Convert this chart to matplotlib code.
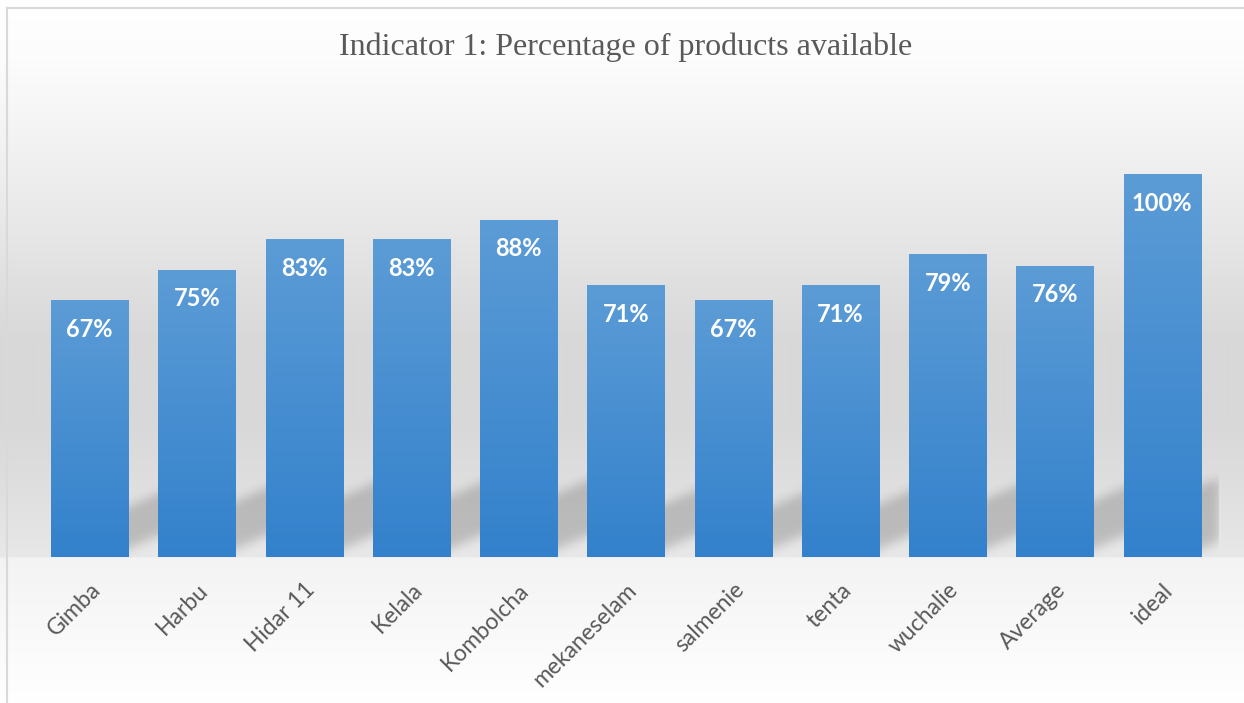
import numpy as np
import matplotlib
matplotlib.use("Agg")
import matplotlib.pyplot as plt
from matplotlib.colors import LinearSegmentedColormap
from matplotlib.lines import Line2D

# ---- data ----
categories = ["Gimba", "Harbu", "Hidar 11", "Kelala", "Kombolcha",
              "mekaneselam", "salmenie", "tenta", "wuchalie", "Average", "ideal"]
values = [67, 75, 83, 83, 88, 71, 67, 71, 79, 76, 100]
value_labels = ["67%", "75%", "83%", "83%", "88%", "71%", "67%", "71%", "79%", "76%", "100%"]
title = "Indicator 1: Percentage of products available"

W_PX, H_PX, DPI = 1244, 703, 100
fig = plt.figure(figsize=(W_PX / DPI, H_PX / DPI), dpi=DPI)

# ---- chart-area background: vertical grey gradient ----
stops_y = [0, 60, 160, 260, 340, 420, 480, 556, 558, 640, 703]
stops_g = [255, 252, 240, 227, 216, 216, 222, 232, 243, 250, 255]
rows = np.arange(H_PX)
grey = np.interp(rows, stops_y, stops_g) / 255.0
bg_img = np.repeat(grey[:, None], 2, axis=1)
bg_ax = fig.add_axes([0, 0, 1, 1], zorder=-10)
bg_ax.imshow(np.dstack([bg_img] * 3), aspect="auto", extent=[0, 1, 0, 1],
             origin="upper", interpolation="bilinear")
bg_ax.set_axis_off()

# left and top border of the chart frame
fig.add_artist(Line2D([7.5 / W_PX, 7.5 / W_PX], [0, 1 - 7.5 / H_PX],
                      transform=fig.transFigure, color="#d9d9d9", lw=1.5))
fig.add_artist(Line2D([7.5 / W_PX, 1], [1 - 7.5 / H_PX, 1 - 7.5 / H_PX],
                      transform=fig.transFigure, color="#d9d9d9", lw=1.5))

# ---- plot area ----
ax_left, ax_right = 36, 1218
ax_bottom_px, ax_top_px = 557, 100
ax = fig.add_axes([ax_left / W_PX, 1 - ax_bottom_px / H_PX,
                   (ax_right - ax_left) / W_PX, (ax_bottom_px - ax_top_px) / H_PX])
ax.patch.set_alpha(0)
n = len(categories)
x = np.arange(n)
bar_w = 0.72
y_per_px = 100 / 383.0
ytop = (ax_bottom_px - ax_top_px) * y_per_px
x_lo, x_hi = -0.5, n - 0.5 + 0.02
ax.set_xlim(x_lo, x_hi)
ax.set_ylim(0, ytop)

# ---- soft perspective shadows behind the bars ----
gw = ax_right - ax_left
gh = ax_bottom_px - ax_top_px
gx = np.linspace(x_lo, x_hi, gw)
gy = np.linspace(0, ytop, gh)
XX, YY = np.meshgrid(gx, gy)
mask = np.zeros_like(XX)
x_per_px = (x_hi - x_lo) / gw
slope = 0.43 * y_per_px / x_per_px  # data-y per data-x
for xi, v in zip(x, values):
    L = xi - bar_w / 2
    R = xi + bar_w / 2
    s_left, s_right = L + 0.15, R + 0.45
    base = 8 * y_per_px + slope * (XX - R)
    thick = 0.165 * v
    inside = (XX >= s_left) & (XX <= s_right) & (YY >= base) & (YY <= base + thick)
    mask = np.maximum(mask, inside.astype(float))


def blur(a, sigma):
    r = int(3 * sigma)
    k = np.exp(-0.5 * (np.arange(-r, r + 1) / sigma) ** 2)
    k /= k.sum()
    a = np.apply_along_axis(lambda m: np.convolve(m, k, mode="same"), 0, a)
    a = np.apply_along_axis(lambda m: np.convolve(m, k, mode="same"), 1, a)
    return a


mask = blur(mask, 5.0)
shadow = np.zeros((gh, gw, 4))
shadow[..., 3] = 0.18 * mask
ax.imshow(shadow, extent=[x_lo, x_hi, 0, ytop], origin="lower",
          aspect="auto", zorder=1, interpolation="bilinear")

# ---- gradient-filled bars ----
bar_cmap = LinearSegmentedColormap.from_list("barblue", ["#3381cc", "#5c9cd6"])
grad = np.linspace(0, 1, 256)[:, None]
bars = ax.bar(x, values, width=bar_w, color="none", edgecolor="none", zorder=2)
for rect, v, lab in zip(bars, values, value_labels):
    L = rect.get_x()
    im = ax.imshow(grad, cmap=bar_cmap, extent=[L, L + rect.get_width(), 0, v],
                   origin="lower", aspect="auto", zorder=3, interpolation="bilinear")
    im.set_clip_path(rect)
    ax.annotate(lab, xy=(rect.get_x() + rect.get_width() / 2, v),
                xytext=(0, -29), textcoords="offset pixels",
                ha="center", va="center", color="white", fontsize=17,
                fontweight="bold", family="Lato", zorder=5)

ax.set_xlim(x_lo, x_hi)
ax.set_ylim(0, ytop)

# ---- axes styling ----
for sp in ax.spines.values():
    sp.set_visible(False)
ax.set_yticks([])
ax.set_xticks(x)
ax.set_xticklabels(categories, rotation=45, ha="right", rotation_mode="anchor",
                   fontsize=16.5, family="Lato", color="#595959")
ax.tick_params(axis="x", length=0, pad=16)

fig.text(626 / W_PX, 1 - 47 / H_PX, title, ha="center", va="center",
         fontsize=23, family="Liberation Serif", color="#595959")

fig.savefig("out.png", dpi=DPI)
